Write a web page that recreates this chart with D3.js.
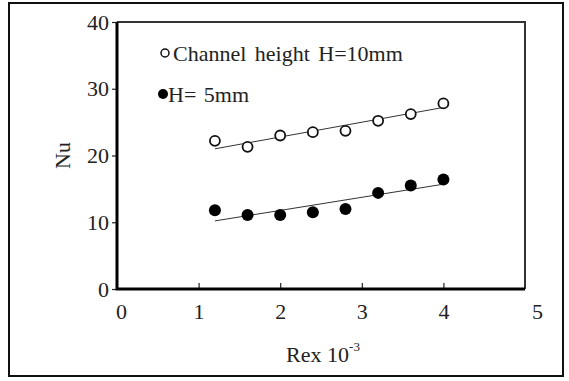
<!DOCTYPE html>
<html>
<head>
<meta charset="utf-8">
<script src="https://cdn.jsdelivr.net/npm/d3@7"></script>
<style>
  html, body { margin: 0; padding: 0; background: #fff; }
  svg { display: block; font-family: "Liberation Serif", "DejaVu Serif", serif; }
</style>
</head>
<body>
<div id="chart"></div>
<script>
// Nu vs Re x 10^-3 for two channel heights

const reValues = [1.2, 1.6, 2.0, 2.4, 2.8, 3.2, 3.6, 4.0];
const nuH10 = [22.2, 21.3, 23.0, 23.5, 23.7, 25.2, 26.2, 27.8];
const nuH5 = [11.8, 11.1, 11.1, 11.5, 12.0, 14.4, 15.5, 16.4];
// end points of the fitted lines [x, y]
const fitH10 = [[1.2, 21.0], [4.0, 27.2]];
const fitH5 = [[1.2, 10.2], [4.0, 15.7]];
const xTicks = [0, 1, 2, 3, 4, 5];
const yTicks = [0, 10, 20, 30, 40];
const legendLabels = ['Channel height  H=10mm', 'H= 5mm'];

const serif = '"Liberation Serif", "DejaVu Serif", serif';
const width = 569, height = 381;
const margin = { top: 22, right: 44, bottom: 92, left: 117 };
const chartWidth = width - margin.left - margin.right;
const chartHeight = height - margin.top - margin.bottom;

const svg = d3.select('#chart').append('svg')
    .attr('width', width)
    .attr('height', height);

// outer border
svg.append('rect')
    .attr('x', 9).attr('y', 3)
    .attr('width', 554).attr('height', 373)
    .attr('fill', 'none')
    .attr('stroke', '#111')
    .attr('stroke-width', 2);

const g = svg.append('g')
    .attr('transform', `translate(${margin.left},${margin.top})`);

const xScale = d3.scaleLinear().domain([0, 5]).range([0, chartWidth]);
const yScale = d3.scaleLinear().domain([0, 40]).range([chartHeight, 0]);

// x axis: ticks point inward
const xAxis = g.append('g')
    .attr('transform', `translate(0,${chartHeight})`)
    .call(d3.axisBottom(xScale).tickValues(xTicks).tickFormat(d3.format('d'))
        .tickSize(-6).tickPadding(13).tickSizeOuter(0));
xAxis.attr('font-family', serif);
xAxis.select('.domain').remove();
xAxis.selectAll('.tick line').attr('stroke', '#222').attr('stroke-width', 1.2);
xAxis.selectAll('.tick text')
    .attr('font-size', '22px')
    .attr('fill', '#222')
    .attr('dy', '0.75em');
xAxis.selectAll('.tick').filter(d => d === 0 || d === 5).select('line').remove();
xAxis.selectAll('.tick').filter(d => d === 5).select('text').attr('dx', 12);
xAxis.selectAll('.tick').filter(d => d === 0).select('text').attr('dx', 4);

// y axis: ticks point outward
const yAxis = g.append('g')
    .call(d3.axisLeft(yScale).tickValues(yTicks).tickFormat(d3.format('d'))
        .tickSize(5).tickPadding(3).tickSizeOuter(0));
yAxis.attr('font-family', serif);
yAxis.select('.domain').remove();
yAxis.selectAll('.tick line').attr('stroke', '#222').attr('stroke-width', 1.2);
yAxis.selectAll('.tick text')
    .attr('font-size', '22px')
    .attr('fill', '#222');

// frame
g.append('path')
    .attr('d', `M0,0H${chartWidth}V${chartHeight}`)
    .attr('fill', 'none')
    .attr('stroke', '#333')
    .attr('stroke-width', 2);
g.append('path')
    .attr('d', `M0,0V${chartHeight}H${chartWidth}`)
    .attr('fill', 'none')
    .attr('stroke', '#000')
    .attr('stroke-width', 3);

// axis titles
g.append('text')
    .attr('transform', `translate(${-55},${yScale(20)}) rotate(-90)`)
    .attr('text-anchor', 'middle')
    .attr('dy', '0.35em')
    .attr('font-size', '22px')
    .attr('fill', '#222')
    .text('Nu');

const xTitle = g.append('text')
    .attr('x', xScale(2.5) + 2)
    .attr('y', chartHeight + 73)
    .attr('text-anchor', 'middle')
    .attr('font-size', '22px')
    .attr('fill', '#222');
xTitle.append('tspan').text('Rex 10');
xTitle.append('tspan').attr('dy', -11).attr('font-size', '13px').text('-3');

// fitted lines
const line = d3.line().x(d => xScale(d[0])).y(d => yScale(d[1]));
[fitH10, fitH5].forEach(fit => {
    g.append('path')
        .attr('d', line(fit))
        .attr('fill', 'none')
        .attr('stroke', '#333')
        .attr('stroke-width', 1);
});

// data points
g.selectAll('.p-h10')
    .data(reValues.map((x, i) => [x, nuH10[i]]))
    .join('circle')
    .attr('class', 'p-h10')
    .attr('cx', d => xScale(d[0]))
    .attr('cy', d => yScale(d[1]))
    .attr('r', 5)
    .attr('fill', '#fff')
    .attr('stroke', '#111')
    .attr('stroke-width', 1.8);

g.selectAll('.p-h5')
    .data(reValues.map((x, i) => [x, nuH5[i]]))
    .join('circle')
    .attr('class', 'p-h5')
    .attr('cx', d => xScale(d[0]))
    .attr('cy', d => yScale(d[1]))
    .attr('r', 6)
    .attr('fill', '#000');

// legend
const legend = g.append('g').attr('transform', 'translate(48,31)');
legend.append('circle')
    .attr('cx', 0).attr('cy', 0).attr('r', 4)
    .attr('fill', '#fff').attr('stroke', '#111').attr('stroke-width', 1.5);
legend.append('text')
    .attr('x', 8).attr('y', 0).attr('dy', '0.35em')
    .attr('font-size', '22px').attr('fill', '#222')
    .attr('word-spacing', '3px')
    .text(legendLabels[0]);
legend.append('circle')
    .attr('cx', -2).attr('cy', 41).attr('r', 5)
    .attr('fill', '#000');
legend.append('text')
    .attr('x', 3).attr('y', 41).attr('dy', '0.35em')
    .attr('font-size', '22px').attr('fill', '#222')
    .attr('word-spacing', '2px')
    .text(legendLabels[1]);
</script>
</body>
</html>
